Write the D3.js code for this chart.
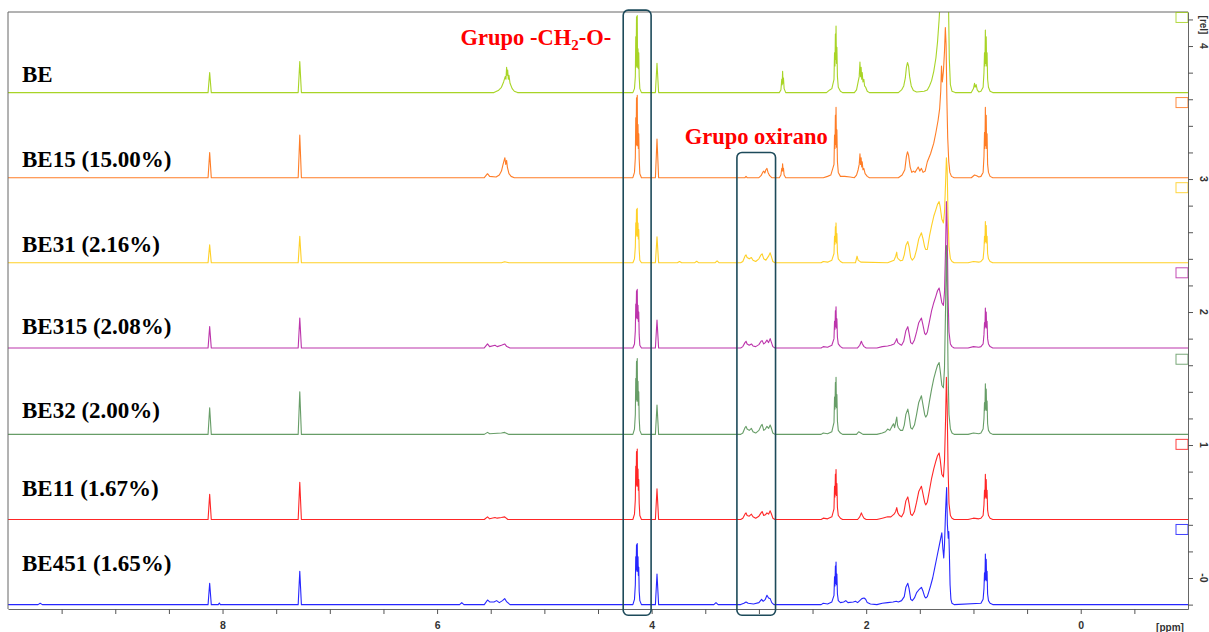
<!DOCTYPE html>
<html>
<head>
<meta charset="utf-8">
<script src="https://cdn.jsdelivr.net/npm/d3@7"></script>
<style>
  html, body { margin: 0; padding: 0; background: #fff; }
  svg { display: block; }
</style>
</head>
<body>
<svg id="chart" width="1209" height="632"></svg>
<script>
// ---- Samples (top to bottom) ----
const sampleLabels = ["BE", "BE15 (15.00%)", "BE31 (2.16%)", "BE315 (2.08%)", "BE32 (2.00%)", "BE11 (1.67%)", "BE451 (1.65%)"];
const sampleColors = ["#99cc00", "#ff6600", "#ffc800", "#b0109c", "#4c8c4c", "#ff0000", "#0000ff"];
// vertical stacking offset of each trace, in [rel] units
const stackOffsets = [3.65, 3.01, 2.37, 1.73, 1.08, 0.44, -0.20];
// intensity-scaling markers on the right axis, in [rel] units
const markerLevels = [4.215, 3.575, 2.935, 2.295, 1.645, 1.005, 0.365];

// ---- Spectra: [chemical shift (ppm), relative intensity above the trace baseline] ----
const specBE = [
  [10,0],[8.135,0],[8.12,0.15],[8.105,0],
  [7.295,0],[7.28,0.233],[7.265,0],
  [5.47,0],[5.43,0.015],[5.40,0.04],[5.38,0.08],[5.365,0.12],[5.358,0.1],[5.352,0.19],[5.347,0.13],[5.342,0.17],[5.336,0.1],[5.33,0.13],[5.32,0.07],[5.30,0.03],[5.28,0.01],[5.25,0],
  [4.175,0],[4.16,0.03],[4.152,0.12],[4.148,0.42],[4.145,0.19],[4.141,0.57],[4.138,0.2],[4.134,0.58],[4.131,0.19],[4.127,0.33],[4.124,0.18],[4.12,0.3],[4.116,0.12],[4.11,0.03],[4.095,0],
  [3.965,0],[3.95,0.22],[3.935,0],
  [2.81,0],[2.795,0.02],[2.787,0.1],[2.783,0.06],[2.779,0.16],[2.775,0.07],[2.771,0.11],[2.765,0.03],[2.75,0],
  [2.37,0],[2.34,0.02],[2.32,0.03],[2.30,0.1],[2.295,0.3],[2.291,0.2],[2.287,0.44],[2.284,0.25],[2.281,0.5],[2.277,0.22],[2.273,0.34],[2.268,0.12],[2.26,0.04],[2.24,0.01],[2.22,0],
  [2.11,0],[2.09,0.02],[2.075,0.08],[2.065,0.12],[2.058,0.23],[2.052,0.12],[2.047,0.19],[2.042,0.1],[2.037,0.15],[2.03,0.08],[2.022,0.1],[2.015,0.05],[2.005,0.04],[1.99,0.01],[1.97,0],
  [1.70,0],[1.67,0.02],[1.65,0.05],[1.635,0.11],[1.625,0.19],[1.615,0.226],[1.605,0.2],[1.595,0.12],[1.58,0.05],[1.56,0.015],[1.53,0.005],
  [1.46,0.01],[1.43,0.02],[1.41,0.05],[1.39,0.09],[1.37,0.16],[1.35,0.26],[1.335,0.38],[1.32,0.55],[1.31,0.7],[1.30,0.95],[1.29,0.85],[1.28,1.0],[1.27,1.2],[1.26,1.4],[1.25,1.45],[1.24,1.2],[1.235,0.8],[1.225,0.25],[1.215,0.06],[1.20,0.01],[1.17,0],
  [1.02,0],[1.0,0.03],[0.99,0.07],[0.985,0.04],[0.975,0.06],[0.965,0.02],[0.95,0.005],
  [0.93,0.01],[0.91,0.04],[0.902,0.15],[0.897,0.3],[0.893,0.2],[0.889,0.47],[0.885,0.22],[0.881,0.42],[0.877,0.2],[0.873,0.3],[0.868,0.1],[0.86,0.04],[0.845,0.01],[0.82,0],
  [-1,0]
];

const specBE15 = [
  [10,0],[8.135,0],[8.12,0.19],[8.105,0],[7.295,0],[7.28,0.32],[7.265,0],
  [5.56,0],[5.53,0.03],[5.51,0.01],[5.45,0.005],[5.42,0.02],[5.40,0.05],[5.385,0.1],[5.375,0.13],[5.368,0.15],[5.36,0.1],[5.352,0.13],[5.345,0.08],[5.33,0.03],[5.31,0.01],[5.28,0],
  [4.175,0],[4.16,0.04],[4.152,0.15],[4.148,0.45],[4.145,0.24],[4.141,0.6],[4.138,0.25],[4.134,0.62],[4.131,0.24],[4.127,0.4],[4.124,0.22],[4.12,0.33],[4.116,0.14],[4.11,0.03],[4.095,0],
  [3.965,0],[3.95,0.29],[3.935,0],
  [3.13,0],[3.12,0.01],[3.11,0],
  [3.0,0],[2.98,0.015],[2.965,0.04],[2.955,0.05],[2.945,0.035],[2.935,0.06],[2.925,0.07],[2.915,0.04],[2.90,0.015],[2.88,0],
  [2.81,0],[2.795,0.02],[2.787,0.07],[2.783,0.05],[2.779,0.105],[2.775,0.05],[2.771,0.07],[2.765,0.02],[2.75,0],
  [2.40,0],[2.36,0.01],[2.33,0.02],[2.30,0.1],[2.295,0.32],[2.291,0.22],[2.287,0.47],[2.284,0.25],[2.281,0.53],[2.277,0.23],[2.273,0.36],[2.268,0.12],[2.26,0.04],[2.24,0.01],[2.20,0.01],[2.15,0.005],
  [2.11,0],[2.09,0.02],[2.075,0.06],[2.065,0.1],[2.058,0.18],[2.052,0.1],[2.047,0.15],[2.042,0.08],[2.037,0.12],[2.03,0.06],[2.022,0.07],[2.01,0.03],[1.99,0.01],[1.97,0],
  [1.70,0],[1.665,0.02],[1.64,0.06],[1.625,0.16],[1.615,0.195],[1.605,0.17],[1.59,0.08],[1.575,0.04],[1.56,0.05],[1.545,0.04],[1.53,0.06],[1.515,0.08],[1.50,0.05],[1.485,0.07],[1.47,0.04],[1.45,0.05],
  [1.43,0.12],[1.40,0.18],[1.37,0.26],[1.35,0.34],[1.33,0.43],[1.315,0.52],[1.305,0.65],[1.298,0.84],[1.29,0.72],[1.28,0.8],[1.27,0.95],[1.262,1.13],[1.255,1.0],[1.248,0.6],[1.24,0.3],[1.23,0.12],[1.22,0.04],[1.205,0.01],[1.18,0],
  [1.02,0],[0.99,0.02],[0.97,0.015],[0.95,0.005],
  [0.93,0.01],[0.91,0.04],[0.902,0.16],[0.897,0.34],[0.893,0.22],[0.889,0.53],[0.885,0.24],[0.881,0.47],[0.877,0.22],[0.873,0.33],[0.868,0.1],[0.86,0.04],[0.845,0.01],[0.82,0],
  [-1,0]
];

const specBE31 = [
  [10,0],[8.135,0],[8.12,0.135],[8.105,0],[7.295,0],[7.28,0.20],[7.265,0],
  [5.40,0],[5.37,0.008],[5.33,0],
  [4.175,0],[4.16,0.03],[4.152,0.12],[4.148,0.3],[4.145,0.2],[4.141,0.4],[4.138,0.21],[4.134,0.41],[4.131,0.2],[4.127,0.3],[4.124,0.18],[4.12,0.25],[4.116,0.1],[4.11,0.02],[4.095,0],
  [3.965,0],[3.95,0.195],[3.935,0],
  [3.76,0],[3.74,0.01],[3.72,0],[3.60,0],[3.58,0.012],[3.56,0],[3.41,0],[3.39,0.015],[3.37,0],
  [3.17,0],[3.15,0.01],[3.13,0.05],[3.12,0.06],[3.11,0.04],[3.09,0.03],[3.07,0.04],[3.055,0.02],[3.03,0.01],[3.00,0.03],[2.98,0.06],[2.97,0.068],[2.955,0.03],[2.935,0.02],[2.91,0.05],[2.895,0.075],[2.885,0.05],[2.87,0.01],[2.85,0],
  [2.42,0],[2.40,0.01],[2.36,0.005],[2.32,0.02],[2.30,0.07],[2.295,0.2],[2.291,0.14],[2.287,0.27],[2.284,0.16],[2.281,0.30],[2.277,0.15],[2.273,0.22],[2.268,0.08],[2.26,0.03],[2.24,0.01],[2.22,0],
  [2.10,0],[2.085,0.05],[2.075,0.02],[2.05,0.005],
  [1.80,0],[1.77,0.01],[1.74,0.02],[1.725,0.05],[1.715,0.08],[1.71,0.04],[1.70,0.03],[1.68,0.015],[1.66,0.02],[1.645,0.06],[1.63,0.13],[1.612,0.16],[1.60,0.12],[1.585,0.04],[1.57,0.02],
  [1.55,0.04],[1.53,0.1],[1.51,0.18],[1.485,0.226],[1.47,0.18],[1.455,0.12],[1.445,0.1],
  [1.43,0.1],[1.41,0.2],[1.39,0.28],[1.37,0.35],[1.35,0.4],[1.335,0.44],[1.32,0.46],[1.31,0.42],[1.295,0.33],[1.28,0.3],[1.27,0.38],[1.26,0.6],[1.252,0.79],[1.245,0.7],[1.237,0.35],[1.228,0.12],[1.215,0.03],[1.20,0.01],[1.18,0],
  [1.05,0],[1.0,0.01],[0.95,0.005],
  [0.93,0.01],[0.91,0.03],[0.902,0.1],[0.897,0.2],[0.893,0.15],[0.889,0.31],[0.885,0.16],[0.881,0.28],[0.877,0.15],[0.873,0.2],[0.868,0.07],[0.86,0.03],[0.845,0.01],[0.82,0],
  [-1,0]
];

const specBE315 = [
  [10,0],[8.135,0],[8.12,0.16],[8.105,0],[7.295,0],[7.28,0.225],[7.265,0],
  [5.56,0],[5.53,0.03],[5.51,0.01],[5.46,0.02],[5.44,0.01],[5.40,0.02],[5.37,0.03],[5.35,0.01],[5.32,0],
  [4.175,0],[4.16,0.03],[4.152,0.13],[4.148,0.33],[4.145,0.22],[4.141,0.43],[4.138,0.23],[4.134,0.44],[4.131,0.22],[4.127,0.32],[4.124,0.2],[4.12,0.27],[4.116,0.1],[4.11,0.02],[4.095,0],
  [3.965,0],[3.95,0.21],[3.935,0],
  [3.17,0],[3.15,0.01],[3.13,0.04],[3.12,0.05],[3.11,0.03],[3.09,0.02],[3.07,0.03],[3.055,0.015],[3.03,0.01],[3.00,0.025],[2.98,0.05],[2.97,0.055],[2.955,0.03],[2.94,0.04],[2.925,0.06],[2.91,0.04],[2.895,0.07],[2.885,0.045],[2.87,0.01],[2.85,0],
  [2.42,0],[2.40,0.01],[2.36,0.005],[2.32,0.02],[2.30,0.07],[2.295,0.2],[2.291,0.14],[2.287,0.28],[2.284,0.16],[2.281,0.31],[2.277,0.15],[2.273,0.22],[2.268,0.08],[2.26,0.03],[2.24,0.01],[2.22,0],
  [2.08,0],[2.06,0.02],[2.045,0.05],[2.035,0.03],[2.02,0.01],[2.00,0],
  [1.90,0],[1.85,0.01],[1.80,0.015],[1.77,0.02],[1.74,0.03],[1.725,0.05],[1.715,0.07],[1.705,0.04],[1.69,0.03],[1.67,0.02],[1.65,0.05],[1.63,0.13],[1.612,0.16],[1.60,0.11],[1.585,0.04],[1.57,0.03],
  [1.55,0.06],[1.53,0.12],[1.51,0.19],[1.485,0.225],[1.47,0.17],[1.455,0.11],[1.445,0.1],
  [1.43,0.12],[1.41,0.2],[1.39,0.28],[1.37,0.34],[1.35,0.39],[1.335,0.43],[1.32,0.45],[1.31,0.41],[1.295,0.34],[1.28,0.32],[1.27,0.42],[1.26,0.75],[1.252,1.10],[1.245,0.9],[1.237,0.4],[1.228,0.12],[1.215,0.03],[1.20,0.01],[1.18,0],
  [1.05,0],[1.0,0.01],[0.95,0.005],
  [0.93,0.01],[0.91,0.03],[0.902,0.1],[0.897,0.19],[0.893,0.15],[0.889,0.30],[0.885,0.16],[0.881,0.27],[0.877,0.15],[0.873,0.2],[0.868,0.07],[0.86,0.03],[0.845,0.01],[0.82,0],
  [-1,0]
];

const specBE32 = [
  [10,0],[8.135,0],[8.12,0.20],[8.105,0],[7.295,0],[7.28,0.32],[7.265,0],
  [5.56,0],[5.53,0.015],[5.51,0.005],[5.40,0.01],[5.37,0.015],[5.33,0],
  [4.175,0],[4.16,0.04],[4.152,0.15],[4.148,0.42],[4.145,0.25],[4.141,0.55],[4.138,0.26],[4.134,0.57],[4.131,0.25],[4.127,0.4],[4.124,0.22],[4.12,0.32],[4.116,0.12],[4.11,0.03],[4.095,0],
  [3.965,0],[3.95,0.22],[3.935,0],
  [3.17,0],[3.15,0.01],[3.13,0.05],[3.12,0.06],[3.11,0.04],[3.09,0.03],[3.07,0.045],[3.055,0.02],[3.03,0.01],[3.00,0.03],[2.98,0.065],[2.97,0.075],[2.955,0.03],[2.94,0.04],[2.925,0.06],[2.91,0.045],[2.895,0.07],[2.885,0.05],[2.87,0.01],[2.85,0],
  [2.42,0],[2.40,0.01],[2.36,0.005],[2.32,0.02],[2.30,0.09],[2.295,0.28],[2.291,0.19],[2.287,0.39],[2.284,0.21],[2.281,0.43],[2.277,0.2],[2.273,0.3],[2.268,0.1],[2.26,0.03],[2.24,0.01],[2.22,0],
  [2.09,0],[2.07,0.02],[2.05,0.01],[2.03,0],
  [1.90,0],[1.85,0.01],[1.82,0.02],[1.80,0.04],[1.78,0.03],[1.76,0.06],[1.745,0.08],[1.735,0.05],[1.725,0.09],[1.715,0.13],[1.708,0.07],[1.70,0.05],[1.68,0.03],[1.66,0.03],[1.645,0.07],[1.63,0.15],[1.612,0.19],[1.60,0.14],[1.585,0.05],[1.57,0.04],
  [1.55,0.07],[1.53,0.15],[1.51,0.24],[1.485,0.29],[1.47,0.22],[1.455,0.15],[1.445,0.13],
  [1.43,0.15],[1.41,0.25],[1.39,0.34],[1.37,0.42],[1.35,0.48],[1.335,0.52],[1.32,0.54],[1.31,0.48],[1.295,0.37],[1.28,0.35],[1.27,0.5],[1.26,0.95],[1.252,1.42],[1.245,1.1],[1.237,0.5],[1.228,0.15],[1.215,0.04],[1.20,0.01],[1.18,0],
  [1.05,0],[1.0,0.01],[0.95,0.005],
  [0.93,0.01],[0.91,0.04],[0.902,0.12],[0.897,0.24],[0.893,0.18],[0.889,0.38],[0.885,0.19],[0.881,0.34],[0.877,0.18],[0.873,0.25],[0.868,0.08],[0.86,0.03],[0.845,0.01],[0.82,0],
  [-1,0]
];

const specBE11 = [
  [10,0],[8.135,0],[8.12,0.19],[8.105,0],[7.295,0],[7.28,0.28],[7.265,0],
  [5.56,0],[5.53,0.02],[5.51,0.005],[5.46,0.015],[5.44,0.01],[5.40,0.015],[5.37,0.02],[5.34,0],
  [4.175,0],[4.16,0.04],[4.152,0.15],[4.148,0.4],[4.145,0.25],[4.141,0.51],[4.138,0.26],[4.134,0.53],[4.131,0.25],[4.127,0.38],[4.124,0.22],[4.12,0.3],[4.116,0.12],[4.11,0.03],[4.095,0],
  [3.965,0],[3.95,0.23],[3.935,0],
  [3.17,0],[3.15,0.01],[3.13,0.04],[3.12,0.05],[3.11,0.03],[3.09,0.025],[3.07,0.04],[3.055,0.02],[3.03,0.01],[3.00,0.025],[2.98,0.05],[2.97,0.06],[2.955,0.03],[2.94,0.035],[2.925,0.05],[2.91,0.04],[2.895,0.065],[2.885,0.045],[2.87,0.01],[2.85,0],
  [2.42,0],[2.40,0.01],[2.36,0.005],[2.32,0.02],[2.30,0.08],[2.295,0.25],[2.291,0.17],[2.287,0.34],[2.284,0.19],[2.281,0.376],[2.277,0.18],[2.273,0.27],[2.268,0.09],[2.26,0.03],[2.24,0.01],[2.22,0],
  [2.08,0],[2.06,0.02],[2.045,0.05],[2.035,0.03],[2.02,0.01],[2.00,0],
  [1.90,0],[1.85,0.01],[1.80,0.02],[1.77,0.02],[1.74,0.04],[1.725,0.06],[1.715,0.09],[1.705,0.05],[1.69,0.03],[1.67,0.02],[1.65,0.05],[1.63,0.14],[1.612,0.17],[1.60,0.12],[1.585,0.04],[1.57,0.03],
  [1.55,0.06],[1.53,0.13],[1.51,0.21],[1.485,0.25],[1.47,0.19],[1.455,0.13],[1.445,0.11],
  [1.43,0.13],[1.41,0.22],[1.39,0.31],[1.37,0.38],[1.35,0.44],[1.335,0.48],[1.32,0.50],[1.31,0.45],[1.295,0.34],[1.28,0.32],[1.27,0.44],[1.26,0.75],[1.252,1.07],[1.245,0.85],[1.237,0.4],[1.228,0.12],[1.215,0.03],[1.20,0.01],[1.18,0],
  [1.05,0],[1.0,0.01],[0.95,0.005],
  [0.93,0.01],[0.91,0.03],[0.902,0.11],[0.897,0.22],[0.893,0.16],[0.889,0.34],[0.885,0.17],[0.881,0.3],[0.877,0.16],[0.873,0.22],[0.868,0.07],[0.86,0.03],[0.845,0.01],[0.82,0],
  [-1,0]
];

const specBE451 = [
  [10,0],[9.72,0],[9.70,0.01],[9.68,0],
  [8.135,0],[8.12,0.16],[8.105,0],[8.04,0],[8.03,0.012],[8.02,0],
  [7.295,0],[7.28,0.25],[7.265,0],
  [5.79,0],[5.77,0.015],[5.75,0],[5.56,0],[5.53,0.035],[5.51,0.02],[5.47,0.02],[5.445,0.03],[5.42,0.015],[5.39,0.03],[5.37,0.045],[5.35,0.02],[5.32,0],
  [4.175,0],[4.16,0.04],[4.152,0.15],[4.148,0.36],[4.145,0.25],[4.141,0.45],[4.138,0.26],[4.134,0.46],[4.131,0.25],[4.127,0.36],[4.124,0.22],[4.12,0.28],[4.116,0.1],[4.11,0.03],[4.095,0],
  [3.965,0],[3.95,0.23],[3.935,0],
  [3.42,0],[3.40,0.015],[3.38,0],
  [3.17,0],[3.14,0.01],[3.12,0.02],[3.10,0.01],[3.05,0.005],[3.0,0.015],[2.975,0.04],[2.96,0.025],[2.94,0.04],[2.925,0.07],[2.91,0.05],[2.895,0.045],[2.88,0.015],[2.86,0],
  [2.42,0],[2.40,0.01],[2.36,0.005],[2.32,0.02],[2.30,0.07],[2.295,0.21],[2.291,0.14],[2.287,0.29],[2.284,0.16],[2.281,0.32],[2.277,0.15],[2.273,0.23],[2.268,0.08],[2.26,0.03],[2.24,0.015],
  [2.21,0.02],[2.19,0.03],[2.17,0.015],[2.12,0.02],[2.10,0.025],[2.08,0.015],[2.06,0.03],[2.04,0.045],[2.02,0.05],[2.005,0.04],[1.99,0.015],[1.96,0.005],
  [1.90,0],[1.85,0.01],[1.80,0.015],[1.75,0.02],[1.72,0.025],[1.70,0.02],[1.67,0.03],[1.645,0.06],[1.63,0.13],[1.612,0.16],[1.60,0.12],[1.585,0.04],[1.57,0.03],
  [1.55,0.05],[1.53,0.09],[1.51,0.11],[1.485,0.13],[1.47,0.1],[1.455,0.06],[1.445,0.05],
  [1.43,0.06],[1.415,0.1],[1.40,0.14],[1.38,0.2],[1.36,0.28],[1.34,0.36],[1.32,0.44],[1.305,0.5],[1.295,0.54],[1.285,0.42],[1.277,0.35],[1.27,0.45],[1.26,0.7],[1.25,0.88],[1.243,0.6],[1.235,0.5],[1.23,0.55],[1.225,0.4],[1.218,0.15],[1.21,0.04],[1.20,0.01],[1.18,0],
  [0.93,0.01],[0.91,0.04],[0.902,0.12],[0.897,0.24],[0.893,0.18],[0.889,0.38],[0.885,0.19],[0.881,0.34],[0.877,0.18],[0.873,0.25],[0.868,0.08],[0.86,0.03],[0.845,0.01],[0.82,0],
  [-1,0]
];

const spectra = [specBE, specBE15, specBE31, specBE315, specBE32, specBE11, specBE451];

// ---- Axes ----
const ppmTicks = [9.5, 9, 8.5, 8, 7.5, 7, 6.5, 6, 5.5, 5, 4.5, 4, 3.5, 3, 2.5, 2, 1.5, 1, 0.5, 0, -0.5];
const ppmLabelled = [8, 6, 4, 2, 0];
const relTicks = [-0.2, 0, 0.2, 0.4, 0.6, 0.8, 1, 1.2, 1.4, 1.6, 1.8, 2, 2.2, 2.4, 2.6, 2.8, 3, 3.2, 3.4, 3.6, 3.8, 4, 4.2];
const relLabelled = [0, 1, 2, 3, 4];
const relLabelText = ["-0", "1", "2", "3", "4"];

// ---- Highlighted regions: ppm span, top of box in [rel], caption ----
const regionFrom = [4.265, 3.205];
const regionTo = [4.005, 2.845];
const regionTop = [4.27, 3.20];
const regionCaption = ["Grupo -CH|2|-O-", "Grupo oxirano"];

// ---- Layout ----
const W = 1209, H = 632;
const frame = { left: 8, right: 1188, top: 12, bottom: 609 };
const labelLift = [11, 11, 11, 14, 16, 23, 34];
const serif = "'Liberation Serif','Times New Roman',serif";
const sans = "'Liberation Sans',Arial,sans-serif";

const svg = d3.select("#chart");

const x = d3.scaleLinear().domain([10, -1]).range([frame.left, frame.right]);
const y = d3.scaleLinear().domain([-0.233, 4.256]).range([frame.bottom, frame.top]);

svg.append("defs").append("clipPath").attr("id", "plotClip")
  .append("rect")
  .attr("x", frame.left).attr("y", frame.top)
  .attr("width", frame.right - frame.left).attr("height", frame.bottom - frame.top);

// traces, drawn top to bottom so lower traces sit over the tall peaks of upper ones
const traces = svg.append("g").attr("clip-path", "url(#plotClip)");
spectra.forEach((spec, i) => {
  const line = d3.line()
    .x(d => x(d[0]))
    .y(d => y(stackOffsets[i] + d[1]));
  traces.append("path")
    .attr("d", line(spec))
    .attr("fill", "none")
    .attr("stroke", sampleColors[i])
    .attr("stroke-opacity", 0.85)
    .attr("stroke-width", 1.1)
    .attr("stroke-linejoin", "round");
});

// frame top and left edges
svg.append("path")
  .attr("d", `M${frame.left},${frame.bottom}V${frame.top}H${frame.right}`)
  .attr("fill", "none").attr("stroke", "#666").attr("stroke-width", 1);

// scaling markers at the right edge
svg.append("g").selectAll("rect")
  .data(markerLevels)
  .join("rect")
  .attr("x", frame.right - 12)
  .attr("y", d => y(d) - 5)
  .attr("width", 12)
  .attr("height", 10)
  .attr("fill", "none")
  .attr("stroke", (d, i) => sampleColors[i])
  .attr("stroke-opacity", 0.75)
  .attr("stroke-width", 1);

// bottom ppm axis
const xAxis = d3.axisBottom(x)
  .tickValues(ppmTicks)
  .tickSize(5)
  .tickSizeOuter(0)
  .tickPadding(8)
  .tickFormat(v => ppmLabelled.includes(v) ? String(v) : "");
const gx = svg.append("g").attr("transform", `translate(0,${frame.bottom})`).call(xAxis);
gx.select(".domain").attr("stroke", "#666");
gx.selectAll(".tick line").attr("stroke", "#555");
gx.selectAll(".tick text")
  .attr("fill", "#333").style("font-family", sans).style("font-size", "10.5px").style("font-weight", "bold");

svg.append("text")
  .attr("x", 1170).attr("y", 631)
  .attr("text-anchor", "middle")
  .attr("fill", "#333")
  .style("font-family", sans).style("font-size", "10px").style("font-weight", "bold")
  .text("[ppm]");

// right intensity axis
const yAxis = d3.axisRight(y)
  .tickValues(relTicks)
  .tickSize(5)
  .tickSizeOuter(0)
  .tickFormat(() => "");
const gy = svg.append("g").attr("transform", `translate(${frame.right},0)`).call(yAxis);
gy.select(".domain").attr("stroke", "#666");
gy.selectAll(".tick line").attr("stroke", "#555");

svg.append("g").selectAll("text")
  .data(relLabelled)
  .join("text")
  .attr("transform", d => `translate(1200,${y(d)}) rotate(90)`)
  .attr("text-anchor", "middle")
  .attr("fill", "#333")
  .style("font-family", sans).style("font-size", "10.5px").style("font-weight", "bold")
  .text((d, i) => relLabelText[i]);

svg.append("text")
  .attr("transform", `translate(1200,${frame.top + 13}) rotate(90)`)
  .attr("text-anchor", "middle")
  .attr("fill", "#333")
  .style("font-family", sans).style("font-size", "10px").style("font-weight", "bold")
  .text("[rel]");

// sample names
svg.append("g").selectAll("text")
  .data(sampleLabels)
  .join("text")
  .attr("x", 22)
  .attr("y", (d, i) => y(stackOffsets[i]) - labelLift[i])
  .attr("fill", "#000")
  .style("font-family", serif).style("font-size", "23px").style("font-weight", "bold")
  .text(d => d);

// highlighted regions
const boxes = svg.append("g");
regionFrom.forEach((from, i) => {
  boxes.append("rect")
    .attr("x", x(from))
    .attr("y", y(regionTop[i]))
    .attr("width", x(regionTo[i]) - x(from))
    .attr("height", y(-0.28) - y(regionTop[i]))
    .attr("rx", 5).attr("ry", 5)
    .attr("fill", "none")
    .attr("stroke", "#1d4a5a")
    .attr("stroke-width", 1.6);
});

// region captions
const capCH2 = svg.append("text")
  .attr("x", x(regionFrom[0]) - 12)
  .attr("y", y(regionTop[0]) + 35)
  .attr("text-anchor", "end")
  .attr("fill", "#ff0000")
  .style("font-family", serif).style("font-size", "22.5px").style("font-weight", "bold");
const parts = regionCaption[0].split("|");
capCH2.append("tspan").text(parts[0]);
capCH2.append("tspan").attr("dy", 5).style("font-size", "15px").text(parts[1]);
capCH2.append("tspan").attr("dy", -5).text(parts[2]);

svg.append("text")
  .attr("x", (x(regionFrom[1]) + x(regionTo[1])) / 2)
  .attr("y", y(regionTop[1]) - 8)
  .attr("text-anchor", "middle")
  .attr("fill", "#ff0000")
  .style("font-family", serif).style("font-size", "22.5px").style("font-weight", "bold")
  .text(regionCaption[1]);
</script>
</body>
</html>
